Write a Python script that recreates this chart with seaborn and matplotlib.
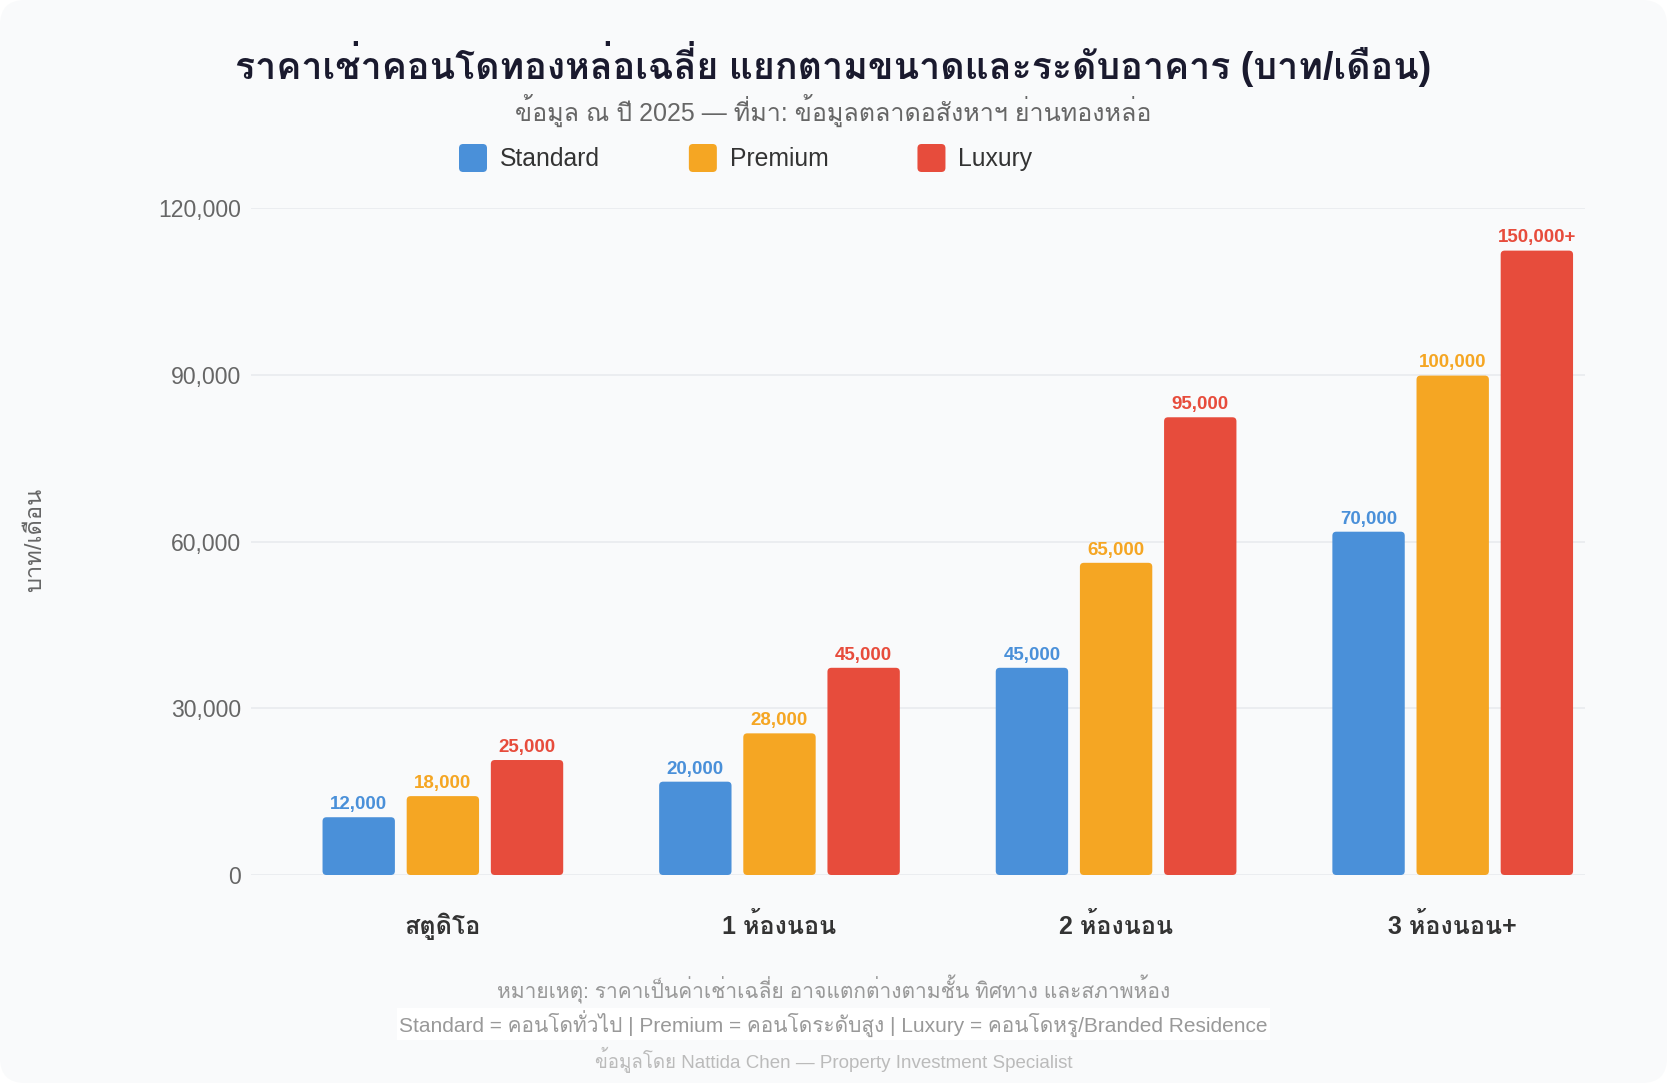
import numpy as np
import pandas as pd
import matplotlib
matplotlib.use('Agg')
import matplotlib.pyplot as plt
import matplotlib.patheffects as pe
import seaborn as sns
from matplotlib import font_manager
from matplotlib.ft2font import FT2Font
from matplotlib.patches import FancyBboxPatch, Patch
from matplotlib.legend_handler import HandlerPatch
from matplotlib.ticker import FuncFormatter

# Data (bar heights on the axis + the printed labels)
sizes = ['สตูดิโอ', '1 ห้องนอน', '2 ห้องนอน', '3 ห้องนอน+']
tiers = ['Standard', 'Premium', 'Luxury']
standard = [10400, 16800, 37300, 61800]
premium = [14200, 25500, 56200, 89900]
luxury = [20700, 37300, 82400, 112400]
standard_labels = ['12,000', '20,000', '45,000', '70,000']
premium_labels = ['18,000', '28,000', '65,000', '100,000']
luxury_labels = ['25,000', '45,000', '95,000', '150,000+']
y_ticks = [0, 30000, 60000, 90000, 120000]

colors = ['#4A90D9', '#F5A623', '#E74C3C']


def find_thai_font():
    # look for installed families that cover Thai; prefer one that has a bold face
    fams = {}
    for f in font_manager.fontManager.ttflist:
        try:
            if ord('ก') in FT2Font(f.fname).get_charmap():
                fams.setdefault(f.name, []).append(f.weight)
        except Exception:
            pass
    if not fams:
        return 'DejaVu Sans', False
    def is_bold(w):
        try:
            return int(w) >= 600
        except (TypeError, ValueError):
            return 'bold' in str(w)
    with_bold = [n for n, ws in fams.items() if any(is_bold(w) for w in ws)]
    for pref in ['Noto Sans Thai', 'Noto Sans Thai Looped', 'Loma', 'Garuda', 'Tlwg Typo', 'Sarabun']:
        if pref in with_bold:
            return pref, True
    if with_bold:
        return sorted(with_bold)[0], True
    for pref in ['Noto Sans Thai', 'Noto Sans Thai Looped', 'Loma', 'Garuda']:
        if pref in fams:
            return pref, False
    return sorted(fams)[0], False


sns.set_style('white')
thai, thai_has_bold = find_thai_font()
plt.rcParams['font.family'] = ['Liberation Sans', thai, 'DejaVu Sans']

# fake-bold for Thai when no bold face is installed
def boldfx(color):
    if thai_has_bold:
        return []
    return [pe.withStroke(linewidth=1.1, foreground=color)]


df = pd.DataFrame({
    'size': sizes * 3,
    'tier': [t for t in tiers for _ in sizes],
    'rent': standard + premium + luxury,
})

W, H = 1667, 1083
fig = plt.figure(figsize=(W / 100, H / 100), dpi=100)
fig.patch.set_facecolor('white')
card = FancyBboxPatch((0, 0), 1, 1, boxstyle='round,pad=0,rounding_size=0.015',
                      mutation_aspect=W / H, transform=fig.transFigure,
                      facecolor='#f9fafb', edgecolor='none', zorder=-10)
fig.patches.append(card)

ax = fig.add_axes([251 / W, 1 - 875 / H, (1585 - 251) / W, (875 - 208.4) / H])
ax.set_facecolor('none')

sns.barplot(data=df, x='size', y='rent', hue='tier', palette=colors,
            saturation=1, width=0.75, gap=0.14, legend=False, ax=ax)

ax.set_xlim(-0.57, 3.393)
ax.set_ylim(0, 120000)
ax.set_yticks(y_ticks)
ax.yaxis.set_major_formatter(FuncFormatter(lambda v, p: f'{v:,.0f}'))
ax.yaxis.grid(True, color='#eaecef', linewidth=1.3)
ax.set_axisbelow(True)
for s in ax.spines.values():
    s.set_visible(False)
ax.tick_params(axis='y', length=0, pad=7, labelsize=16.6, labelcolor='#666666')
ax.tick_params(axis='x', length=0, pad=27, labelsize=18, labelcolor='#333333')
for lbl in ax.get_xticklabels():
    lbl.set_fontweight('bold')
    lbl.set_path_effects(boldfx('#333333'))
ax.set_xlabel('')
ax.set_ylabel('')

# value labels
for cont, labs, c in zip(ax.containers, [standard_labels, premium_labels, luxury_labels], colors):
    ax.bar_label(cont, labels=labs, padding=3, color=c, fontsize=13.5, fontweight='bold')

# swap plain rectangles for rounded ones
x_per_px = (ax.get_xlim()[1] - ax.get_xlim()[0]) / ax.get_window_extent().width
y_per_px = (ax.get_ylim()[1] - ax.get_ylim()[0]) / ax.get_window_extent().height
aspect = y_per_px / x_per_px
for rect in list(ax.patches):
    x, y = rect.get_xy()
    w, h = rect.get_width(), rect.get_height()
    fc = rect.get_facecolor()
    rect.remove()
    ax.add_patch(FancyBboxPatch((x, y), w, h,
                                boxstyle=f'round,pad=0,rounding_size={4 * x_per_px}',
                                mutation_aspect=aspect, facecolor=fc,
                                edgecolor='none', zorder=2))

# titles
fig.text(0.5, 1 - 64 / H, 'ราคาเช่าคอนโดทองหล่อเฉลี่ย แยกตามขนาดและระดับอาคาร (บาท/เดือน)',
         ha='center', va='center', fontsize=27, fontweight='bold', color='#1a1a2e',
         path_effects=boldfx('#1a1a2e'))
fig.text(0.5, 1 - 110 / H, 'ข้อมูล ณ ปี 2025 — ที่มา: ข้อมูลตลาดอสังหาฯ ย่านทองหล่อ',
         ha='center', va='center', fontsize=18, color='#666666')

# legend
def rounded_handle(legend, orig_handle, xdescent, ydescent, width, height, fontsize):
    return FancyBboxPatch((-xdescent, -ydescent), width, height,
                          boxstyle='round,pad=0,rounding_size=3')


handles = [Patch(facecolor=c, edgecolor='none', label=t) for c, t in zip(colors, tiers)]
fs_leg = 17.8
fig.legend(handles=handles, loc='center left', bbox_to_anchor=(459 / W, 1 - 158 / H),
           ncol=3, frameon=False, fontsize=fs_leg, borderaxespad=0, borderpad=0,
           handlelength=28 / (fs_leg * 100 / 72),
           handleheight=(28 / (fs_leg * 100 / 72) - 0.245) / 0.65,
           handletextpad=0.52, columnspacing=3.6, labelcolor='#333333',
           handler_map={Patch: HandlerPatch(patch_func=rounded_handle)})

fig.text(35 / W, 1 - 540 / H, 'บาท/เดือน', rotation=90, ha='center', va='center',
         fontsize=17, color='#666666')

# footer
fig.text(0.5, 1 - 989 / H, 'หมายเหตุ: ราคาเป็นค่าเช่าเฉลี่ย อาจแตกต่างตามชั้น ทิศทาง และสภาพห้อง',
         ha='center', va='center', fontsize=15.1, color='#999999')
fig.text(0.5, 1 - 1024 / H,
         'Standard = คอนโดทั่วไป | Premium = คอนโดระดับสูง | Luxury = คอนโดหรู/Branded Residence',
         ha='center', va='center', fontsize=15.0, color='#999999',
         bbox=dict(facecolor='white', edgecolor='none', pad=2))
fig.text(0.5, 1 - 1060 / H, 'ข้อมูลโดย Nattida Chen — Property Investment Specialist',
         ha='center', va='center', fontsize=13.5, color='#bbbbbb')

fig.savefig('out.png', dpi=100, facecolor=fig.get_facecolor())
